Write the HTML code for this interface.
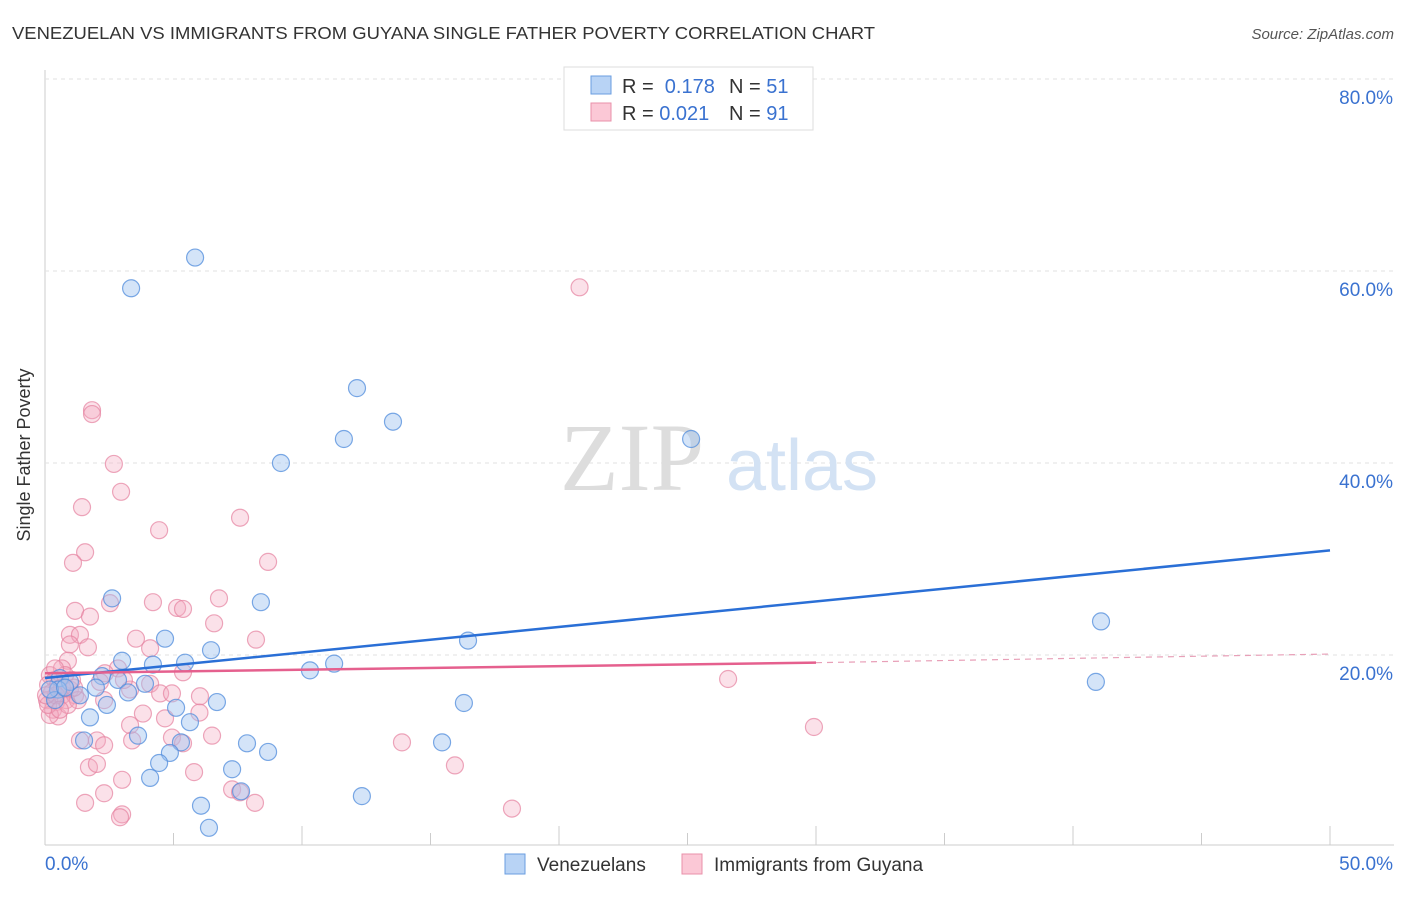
<!DOCTYPE html>
<html><head><meta charset="utf-8"><style>
body{margin:0;background:#fff;font-family:"Liberation Sans",sans-serif;}
</style></head><body>
<svg width="1406" height="892" xmlns="http://www.w3.org/2000/svg">
<text x="12" y="39" font-size="17.5" fill="#333" textLength="863" lengthAdjust="spacingAndGlyphs">VENEZUELAN VS IMMIGRANTS FROM GUYANA SINGLE FATHER POVERTY CORRELATION CHART</text>
<text x="1394" y="39" font-size="15" fill="#555" font-style="italic" text-anchor="end">Source: ZipAtlas.com</text>
<g id="grid"></g>
<g>
<text x="632" y="490" font-size="96" font-family="Liberation Serif,serif" fill="#ddd" text-anchor="middle">ZIP</text>
<text x="802" y="490" font-size="72" fill="#d3e2f4" text-anchor="middle">atlas</text>
</g>
<g id="pts"></g>
<g id="lines"></g>
<text x="30" y="455" font-size="18" fill="#333" text-anchor="middle" transform="rotate(-90 30 455)">Single Father Poverty</text>
<g>
<rect x="564" y="67" width="249" height="63" fill="#fff" stroke="#ddd"/>
<rect x="591" y="76" width="20" height="18" fill="#b8d3f5" stroke="#6a9ee0"/>
<rect x="591" y="103" width="20" height="18" fill="#fbc8d6" stroke="#e890aa"/>
<text x="622" y="93" font-size="20" fill="#333">R = <tspan fill="#3a72d0">&#160;0.178</tspan><tspan x="729">N = </tspan><tspan fill="#3a72d0">51</tspan></text>
<text x="622" y="120" font-size="20" fill="#333">R = <tspan fill="#3a72d0">0.021</tspan><tspan x="729">N = </tspan><tspan fill="#3a72d0">91</tspan></text>
</g>
<g>
<rect x="505" y="854" width="20" height="20" fill="#b8d3f5" stroke="#6a9ee0"/>
<text x="537" y="871" font-size="19" fill="#333">Venezuelans</text>
<rect x="682" y="854" width="20" height="20" fill="#fbc8d6" stroke="#e890aa"/>
<text x="714" y="871" font-size="19" fill="#333">Immigrants from Guyana</text>
</g>
</svg>
<script>
const blueX=[5.84,3.35,12.14,13.54,11.63,25.14,9.18,41.09,40.89,16.46,2.61,8.40,4.67,6.46,3.00,4.20,5.45,10.31,11.25,2.22,2.84,3.89,0.58,0.97,0.51,1.98,3.23,1.36,2.41,6.69,5.10,16.30,1.75,5.64,3.62,1.52,7.86,15.45,5.29,8.68,4.86,4.44,7.28,4.09,12.33,7.63,6.07,6.38,0.39,0.19,0.78];
const blueY=[61.4,58.2,47.8,44.3,42.5,42.5,40.0,23.5,17.2,21.5,25.9,25.5,21.7,20.5,19.4,19.0,19.2,18.4,19.1,17.8,17.4,17.0,17.6,17.2,16.4,16.6,16.1,15.8,14.8,15.1,14.5,15.0,13.5,13.0,11.6,11.1,10.8,10.9,10.9,9.9,9.8,8.75,8.1,7.2,5.3,5.8,4.3,2.0,15.3,16.4,16.6];
const pinkX=[20.8,1.83,1.83,2.68,2.96,7.59,1.44,4.44,1.56,1.09,8.68,6.77,4.20,2.53,5.14,5.37,1.17,1.75,6.58,0.97,1.36,0.97,3.54,8.21,4.09,1.67,0.89,0.66,2.84,2.33,5.37,
0.19,0.39,0.12,0.51,0.27,0.66,0.08,0.43,0.82,0.31,0.51,0.19,0.97,1.17,1.28,1.05,0.78,0.39,0.12,0.66,0.89,1.13,0.43,0.58,0.04,
4.09,3.31,4.48,4.94,6.03,26.58,2.30,3.81,4.67,3.31,6.01,29.92,1.36,2.02,3.39,4.94,6.50,2.30,5.37,13.89,1.71,2.02,5.80,15.95,3.00,2.30,7.28,7.59,1.56,8.17,18.17,3.00,2.92,3.07,2.14];
const pinkY=[58.3,45.5,45.1,39.9,37.0,34.3,35.4,33.0,30.7,29.6,29.7,25.9,25.5,25.4,24.9,24.8,24.6,24.0,23.3,22.1,22.1,21.1,21.7,21.6,20.7,20.8,19.4,18.6,18.6,18.1,18.2,
17.9,17.4,16.9,16.9,16.1,15.8,15.3,15.1,15.3,14.3,13.6,13.75,16.4,15.8,15.3,17.4,17.9,18.6,14.8,16.6,14.8,16.6,15.8,14.3,15.8,
17.0,16.4,16.0,16.0,15.7,17.5,15.3,13.9,13.4,12.7,14.0,12.5,11.1,11.1,11.1,11.4,11.6,10.6,10.8,10.9,8.3,8.65,7.8,8.5,7.0,5.6,6.0,5.7,4.6,4.6,4.0,3.4,3.1,17.4,17.2];
const blueTrend=[17.6,30.9];
const pinkTrend=[18.1,19.2,20.1];
const yTicks=[20,40,60,80];
const NS="http://www.w3.org/2000/svg";
const X=v=>45+v/50*1285, Y=v=>847-v/20*192;
function mk(t,a,p){const e=document.createElementNS(NS,t);for(const k in a)e.setAttribute(k,a[k]);p.appendChild(e);return e;}
const grid=document.getElementById('grid');
mk('line',{x1:45,y1:70,x2:45,y2:845,stroke:'#ccc'},grid);
mk('line',{x1:45,y1:845,x2:1394,y2:845,stroke:'#ccc'},grid);
for(let i=0;i<=10;i++){const l=mk('line',{x1:X(i*5),x2:X(i*5),y1:845,y2:i%2?833:826,stroke:'#ccc'},grid);

}
yTicks.forEach(t=>{const l=mk('line',{x1:45,x2:1394,y1:Y(t),y2:Y(t),stroke:'#e2e2e2','stroke-dasharray':'4,4'},grid);


const tx=mk('text',{x:1393,y:Y(t)+25,'font-size':19,fill:'#3a72d0','text-anchor':'end'},grid);tx.textContent=t.toFixed(1)+'%';

});
[[45,'start','0.0%'],[1393,'end','50.0%']].forEach(([x,a,s])=>{const t=mk('text',{x:x,y:870,'font-size':19,fill:'#3a72d0','text-anchor':a},grid);t.textContent=s;

});
const pts=document.getElementById('pts');
pinkX.forEach((x,i)=>{const c=mk('circle',{cx:X(x),cy:Y(pinkY[i]),r:8.5,fill:'rgba(244,170,192,0.35)',stroke:'rgba(230,130,160,0.7)','stroke-width':1.2},pts);

});
blueX.forEach((x,i)=>{const c=mk('circle',{cx:X(x),cy:Y(blueY[i]),r:8.5,fill:'rgba(160,195,240,0.45)',stroke:'rgba(80,140,220,0.75)','stroke-width':1.2},pts);

});
const ln=document.getElementById('lines');
let a=mk('line',{x1:X(0),y1:Y(blueTrend[0]),x2:X(50),y2:Y(blueTrend[1]),stroke:'#2a6fd6','stroke-width':2.5},ln);


let b=mk('line',{x1:X(0),y1:Y(pinkTrend[0]),x2:X(30),y2:Y(pinkTrend[1]),stroke:'#e5608e','stroke-width':2.5},ln);


let c=mk('line',{x1:X(30),y1:Y(pinkTrend[1]),x2:X(50),y2:Y(pinkTrend[2]),stroke:'#e8a0b8','stroke-width':1.2,'stroke-dasharray':'6,5'},ln);


</script>
</body></html>
